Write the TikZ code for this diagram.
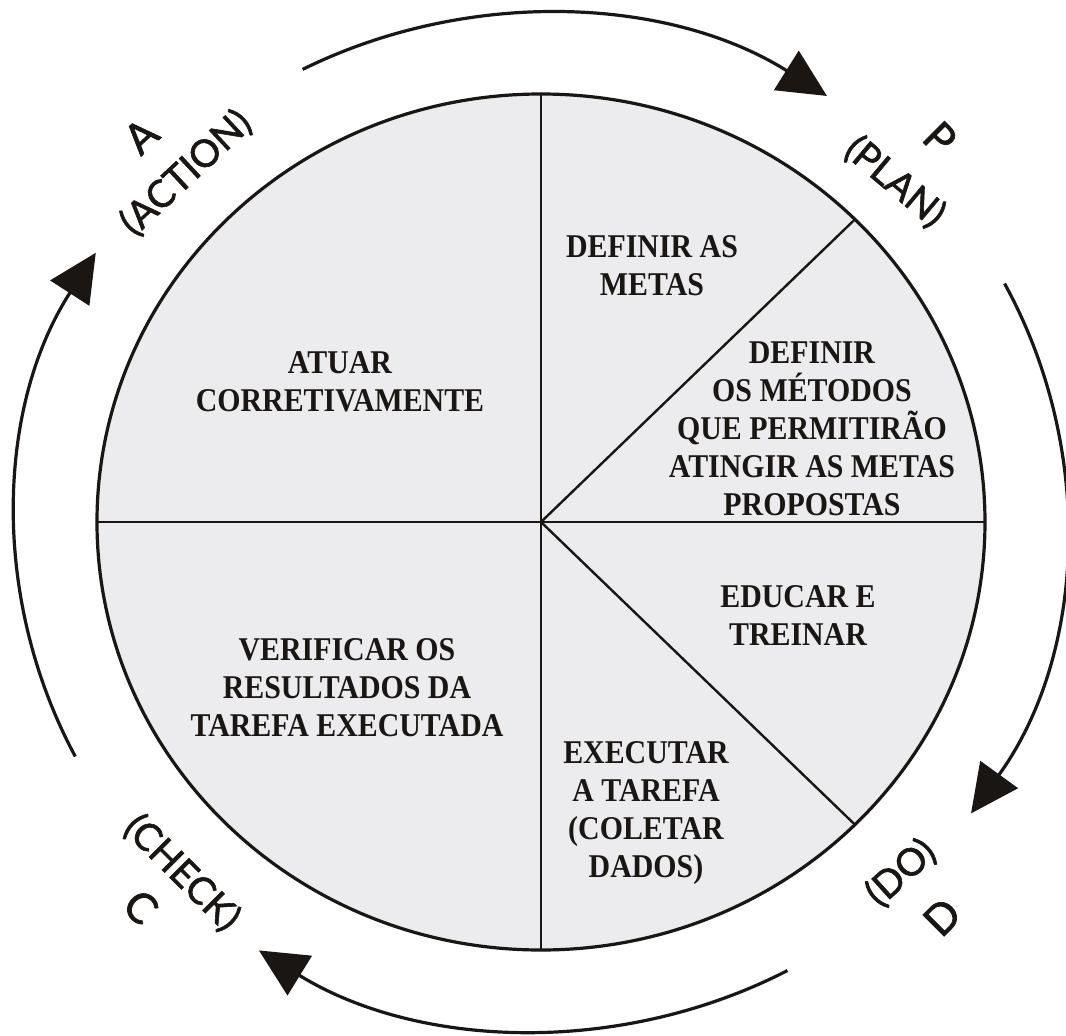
\documentclass[tikz,border=0pt]{standalone}
\usepackage{fontspec}
\usetikzlibrary{arrows.meta}
\newfontfamily\innerfont[FakeStretch=0.9]{Liberation Serif}
\newfontfamily\labelfont[FakeBold=1.6]{Lato}
\definecolor{pie}{RGB}{236,236,238}
\definecolor{ink}{RGB}{25,22,20}
\begin{document}
\begin{tikzpicture}[x=0.5pt,y=0.5pt,
  txt/.style={font=\innerfont\bfseries\fontsize{16.6}{19}\selectfont, align=center, text=ink, inner sep=0pt},
  big/.style={font=\labelfont\fontsize{21}{21}\selectfont, text=ink, inner sep=0pt},
  sub/.style={font=\labelfont\fontsize{19}{19}\selectfont, text=ink, inner sep=0pt},
  cyc/.style={line width=1.6pt, draw=ink, -{Triangle[length=24pt,width=23pt]}},
  div/.style={line width=1.2pt, draw=ink}]
\useasboundingbox (-541,-513) rectangle (525,522);
\fill[white] (-541,-513) rectangle (525,522);
\coordinate (O) at (0,0);
% pie
\fill[pie] (O) ellipse[x radius=444, y radius=428];
\coordinate (top) at (90:444 and 428);
\coordinate (bot) at (-90:444 and 428);
\coordinate (lft) at (180:444 and 428);
\coordinate (rgt) at (0:444 and 428);
\coordinate (ur) at (45:444 and 428);
\coordinate (lr) at (-45:444 and 428);
\draw[div] (top) -- (bot);
\draw[div] (lft) -- (rgt);
\draw[div] (O) -- (ur);
\draw[div] (O) -- (lr);
\draw[ink, line width=1.6pt] (O) ellipse[x radius=444, y radius=428];
% cycle arrows
\coordinate (a1) at (117:525 and 508);
\coordinate (a2) at (28:525 and 508);
\coordinate (a3) at (-62:525 and 508);
\coordinate (a4) at (207.5:525 and 508);
\draw[cyc] (a1) arc[start angle=117, end angle=57, x radius=525, y radius=508];
\draw[cyc] (a2) arc[start angle=28, end angle=-35, x radius=525, y radius=508];
\draw[cyc] (a3) arc[start angle=-62, end angle=-122.5, x radius=525, y radius=508];
\draw[cyc] (a4) arc[start angle=207.5, end angle=148, x radius=525, y radius=508];
% inner texts
\node[txt] (t1) at (111,256) {DEFINIR AS\\METAS};
\node[txt] (t2) at (271,93) {DEFINIR\\OS MÉTODOS\\QUE PERMITIRÃO\\ATINGIR AS METAS\\PROPOSTAS};
\node[txt] (t3) at (257,-94) {EDUCAR E\\TREINAR};
\node[txt] (t4) at (105,-291) {EXECUTAR\\A TAREFA\\(COLETAR\\DADOS)};
\node[txt] (t5) at (-194,-166) {VERIFICAR OS\\RESULTADOS DA\\TAREFA EXECUTADA};
\node[txt] (t6) at (-201,140) {ATUAR\\CORRETIVAMENTE};
% outer labels
\node[big, rotate=43] (lA) at (-400,386) {A};
\node[sub, rotate=43] (lAc) at (-355,349) {(ACTION)};
\node[big, rotate=-45] (lP) at (399,384) {P};
\node[sub, rotate=-40] (lPl) at (354,340) {(PLAN)};
\node[big, rotate=45] (lD) at (401,-395) {D};
\node[sub, rotate=42] (lDo) at (360,-351) {(DO)};
\node[big, rotate=-45] (lC) at (-400,-385) {C};
\node[sub, rotate=-45] (lCh) at (-359,-351) {(CHECK)};
\end{tikzpicture}
\end{document}
